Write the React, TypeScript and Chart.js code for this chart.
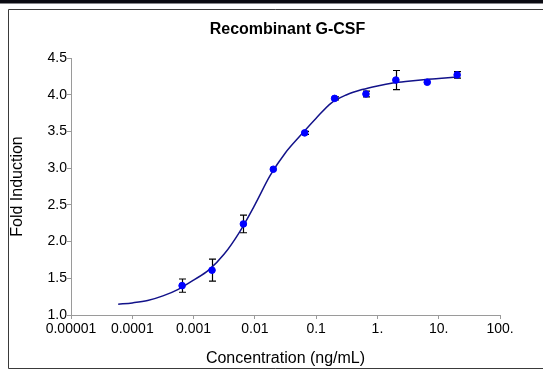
import React, { useEffect, useRef } from "react";
import { Chart, registerables } from "chart.js";

Chart.register(...registerables);

const chartTitle = "Recombinant G-CSF";
const xAxisTitle = "Concentration (ng/mL)";
const yAxisTitle = "Fold Induction";

const xTickValues = [0.00001, 0.0001, 0.001, 0.01, 0.1, 1, 10, 100];
const xTickLabels = ["0.00001", "0.0001", "0.001", "0.01", "0.1", "1.", "10.", "100."];

const concentrations = [0.00065, 0.002, 0.0065, 0.02, 0.065, 0.2, 0.65, 2, 6.5, 20];
const foldInduction = [1.4, 1.61, 2.24, 2.985, 3.48, 3.95, 4.01, 4.2, 4.17, 4.27];
const foldError = [0.09, 0.15, 0.12, 0.0, 0.02, 0.02, 0.04, 0.13, 0.0, 0.045];

const curveConcentrations = [
  0.0000589, 0.0001, 0.000178, 0.000316, 0.000562, 0.001, 0.00178, 0.00316, 0.00562, 0.01,
  0.0178, 0.0316, 0.0562, 0.1, 0.178, 0.316, 0.562, 1, 1.78, 3.16, 5.62, 10, 20,
];
const curveFold = [
  1.146, 1.165, 1.197, 1.26, 1.35, 1.475, 1.615, 1.83, 2.13, 2.5,
  2.9, 3.21, 3.45, 3.68, 3.89, 4.0, 4.07, 4.12, 4.16, 4.185, 4.205, 4.22, 4.24,
];

const FONT = "Arial, 'Liberation Sans', sans-serif";

const framePlugin = {
  id: "frame",
  beforeDraw(chart: any) {
    const ctx = chart.ctx;
    ctx.save();
    ctx.fillStyle = "#ffffff";
    ctx.fillRect(0, 0, chart.width, chart.height);
    ctx.fillStyle = "#0b0b12";
    ctx.fillRect(0, 0, chart.width, 3.5);
    ctx.strokeStyle = "#3a3a3a";
    ctx.lineWidth = 1;
    ctx.beginPath();
    ctx.moveTo(8.5, 368.5);
    ctx.lineTo(8.5, 9.5);
    ctx.lineTo(chart.width, 9.5);
    ctx.moveTo(8.5, 368.5);
    ctx.lineTo(chart.width, 368.5);
    ctx.stroke();
    ctx.restore();
  },
  afterDraw(chart: any) {
    const ctx = chart.ctx;
    const area = chart.chartArea;
    ctx.save();
    ctx.font = `bold 16px ${FONT}`;
    ctx.fillStyle = "#000";
    ctx.textAlign = "center";
    ctx.textBaseline = "middle";
    ctx.fillText(chartTitle, (area.left + area.right) / 2 + 2, 30);
    ctx.restore();
  },
};

const errorBarPlugin = {
  id: "errorBars",
  beforeDatasetsDraw(chart: any) {
    const ctx = chart.ctx;
    const xs = chart.scales.x;
    const ys = chart.scales.y;
    ctx.save();
    ctx.strokeStyle = "#000";
    ctx.lineWidth = 1.2;
    concentrations.forEach((c, i) => {
      const e = foldError[i];
      if (!e) return;
      const px = Math.round(xs.getPixelForValue(c)) + 0.5;
      const top = ys.getPixelForValue(foldInduction[i] + e);
      const bot = ys.getPixelForValue(foldInduction[i] - e);
      ctx.beginPath();
      ctx.moveTo(px, top);
      ctx.lineTo(px, bot);
      ctx.moveTo(px - 3.5, top);
      ctx.lineTo(px + 3.5, top);
      ctx.moveTo(px - 3.5, bot);
      ctx.lineTo(px + 3.5, bot);
      ctx.stroke();
    });
    ctx.restore();
  },
};

export default function App() {
  const ref = useRef<HTMLCanvasElement | null>(null);

  useEffect(() => {
    document.body.style.margin = "0";
    const canvas = ref.current;
    if (!canvas) return;
    const chart = new Chart(canvas, {
      type: "scatter",
      data: {
        datasets: [
          {
            type: "scatter",
            label: "data",
            data: concentrations.map((c, i) => ({ x: c, y: foldInduction[i] })),
            pointRadius: 3.3,
            pointBackgroundColor: "#0000ff",
            pointBorderColor: "#0000ff",
            showLine: false,
            order: 1,
          } as any,
          {
            type: "line",
            label: "fit",
            data: curveConcentrations.map((c, i) => ({ x: c, y: curveFold[i] })),
            borderColor: "#12128a",
            borderWidth: 1.5,
            pointRadius: 0,
            fill: false,
            cubicInterpolationMode: "monotone",
            order: 2,
          } as any,
        ],
      },
      options: {
        animation: false,
        responsive: false,
        devicePixelRatio: 1,
        layout: { padding: { left: 8, top: 58, right: 43, bottom: 0 } },
        plugins: {
          legend: { display: false },
          tooltip: { enabled: false },
          title: { display: false },
        },
        scales: {
          x: {
            type: "logarithmic",
            min: 0.00001,
            max: 100,
            afterBuildTicks: (scale: any) => {
              scale.ticks = xTickValues.map((v) => ({ value: v, major: true }));
            },
            afterFit: (scale: any) => {
              scale.height = 59;
            },
            grid: {
              drawOnChartArea: false,
              drawTicks: true,
              tickLength: 4,
              color: "#9a9a9a",
            },
            border: { display: true, color: "#9a9a9a", width: 1 },
            ticks: {
              autoSkip: false,
              maxRotation: 0,
              padding: 2,
              color: "#000",
              font: { family: FONT, size: 14 },
              callback: (_v: any, i: number) => xTickLabels[i],
            },
            title: {
              display: true,
              text: xAxisTitle,
              color: "#000",
              font: { family: FONT, size: 16 },
              padding: { top: 0, bottom: 6 },
            },
          },
          y: {
            type: "linear",
            min: 1,
            max: 4.5,
            afterFit: (scale: any) => {
              scale.width = 63;
            },
            grid: {
              drawOnChartArea: false,
              drawTicks: true,
              tickLength: 4,
              color: "#9a9a9a",
            },
            border: { display: true, color: "#9a9a9a", width: 1 },
            ticks: {
              stepSize: 0.5,
              padding: 0,
              color: "#000",
              font: { family: FONT, size: 14 },
              callback: (v: any) => Number(v).toFixed(1),
            },
            title: {
              display: true,
              text: yAxisTitle,
              color: "#000",
              font: { family: FONT, size: 16 },
              padding: { top: 0, bottom: 0 },
            },
          },
        },
      } as any,
      plugins: [framePlugin, errorBarPlugin],
    });
    return () => chart.destroy();
  }, []);

  return (
    <div style={{ position: "relative", width: 543, height: 374 }}>
      <canvas ref={ref} width={543} height={374} style={{ display: "block", width: 543, height: 374 }} />
    </div>
  );
}
